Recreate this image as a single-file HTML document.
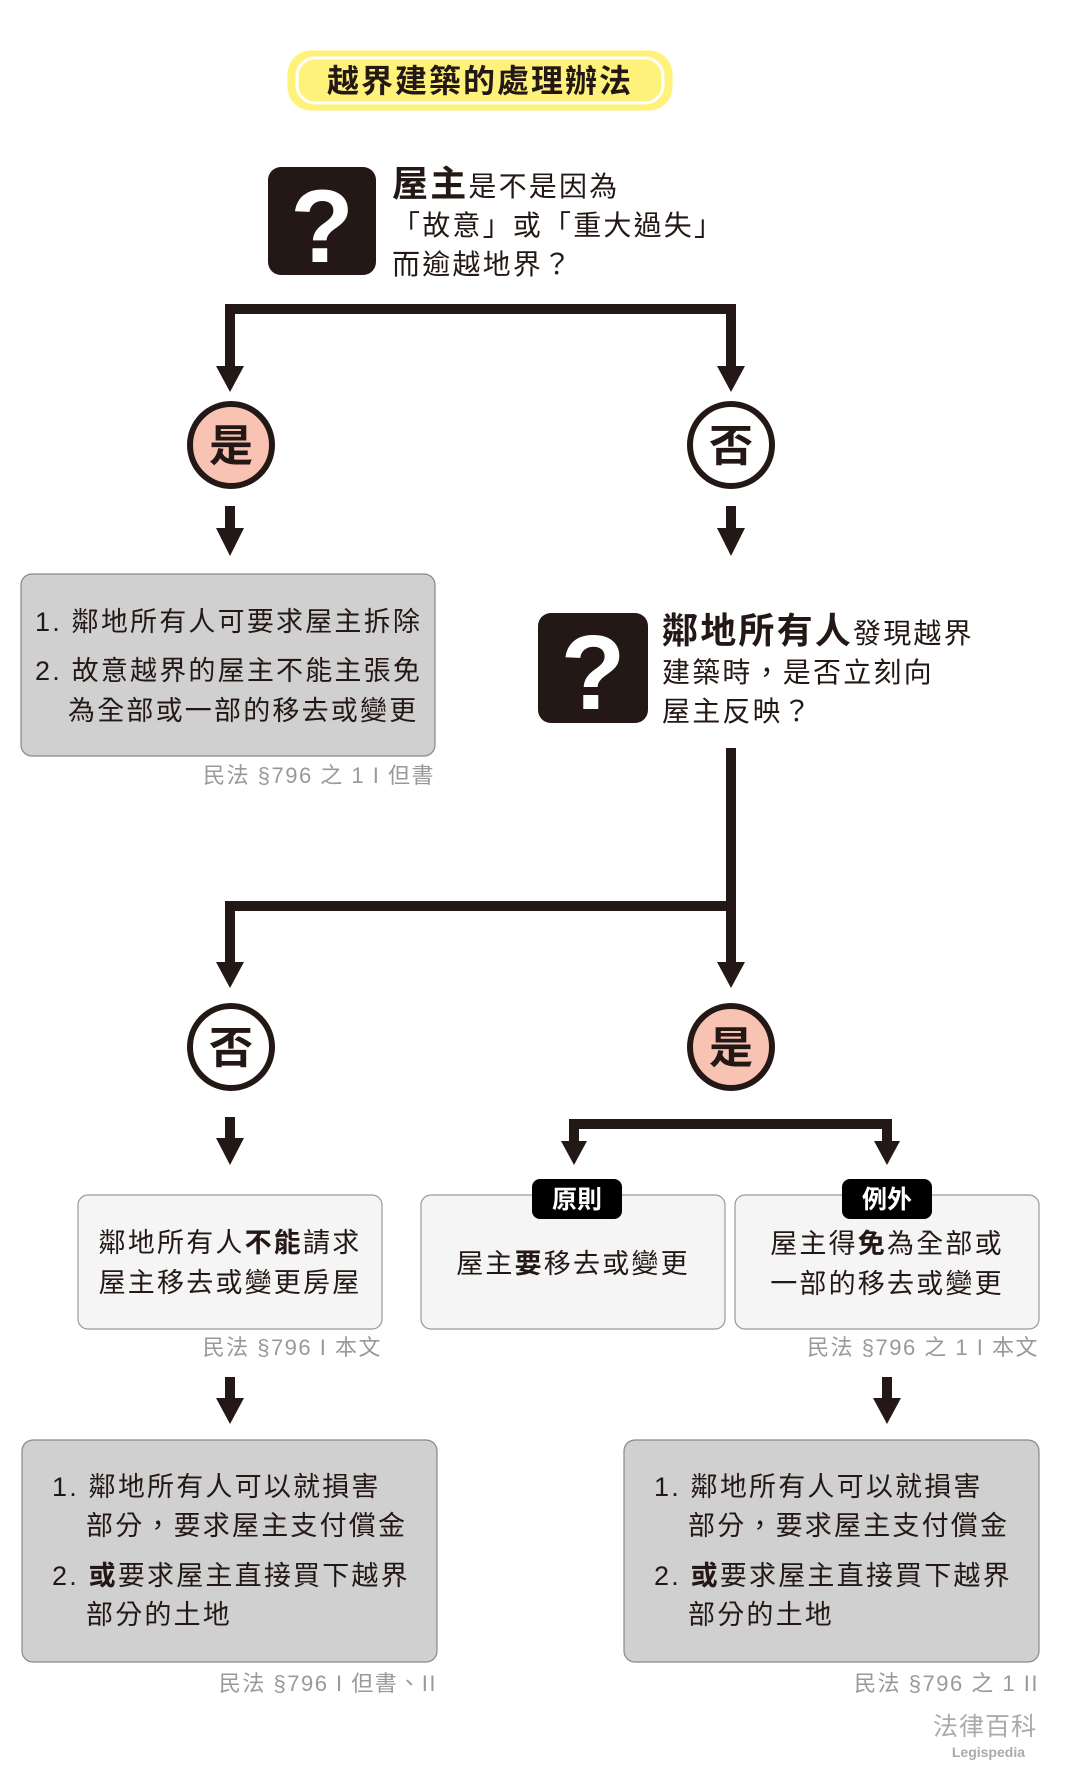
<!DOCTYPE html>
<html><head><meta charset="utf-8"><style>
html,body{margin:0;padding:0;background:#fff;}
svg{display:block;}
text{font-family:"Liberation Sans","Noto Sans CJK TC",sans-serif;}
.b{letter-spacing:2.2px;}
.c{letter-spacing:1.5px;}
</style></head><body>
<svg width="1065" height="1784" viewBox="0 0 1065 1784" xmlns="http://www.w3.org/2000/svg">
<!-- title -->
<rect x="289" y="52" width="382" height="57" rx="22" fill="#fff27a" stroke="#fff27a" stroke-width="3"/>
<rect x="297" y="58" width="366" height="45" rx="18" fill="#fff27a" stroke="#fff" stroke-width="3"/>
<text x="480" y="92" font-size="32" font-weight="bold" text-anchor="middle" fill="#231815" letter-spacing="2">越界建築的處理辦法</text>

<!-- question 1 -->
<rect x="268" y="167" width="108" height="108" rx="13" fill="#231815"/>
<text x="322" y="262" font-size="104" font-weight="bold" text-anchor="middle" fill="#fff" font-family="Liberation Sans">?</text>
<text class="b" x="392" y="196" fill="#231815"><tspan font-size="36" font-weight="bold">屋主</tspan><tspan font-size="28">是不是因為</tspan></text>
<text class="b" x="392" y="235" font-size="28" fill="#231815">「故意」或「重大過失」</text>
<text class="b" x="392" y="274" font-size="28" fill="#231815">而逾越地界？</text>

<g fill="none" stroke="#231815" stroke-width="10">
<polyline points="230,370 230,309 731,309 731,370"/>
<line x1="230" y1="506" x2="230" y2="532"/>
<line x1="731" y1="506" x2="731" y2="532"/>
<polyline points="731,748 731,906"/>
<polyline points="230,966 230,906 731,906 731,966"/>
<line x1="230" y1="1117" x2="230" y2="1142"/>
<polyline points="574,1145 574,1124 887,1124 887,1145"/>
<line x1="230" y1="1377" x2="230" y2="1402"/>
<line x1="887" y1="1377" x2="887" y2="1402"/>
</g>
<g fill="#231815">
<polygon points="216,366 244,366 230,392"/>
<polygon points="717,366 745,366 731,392"/>
<polygon points="216,528 244,528 230,556"/>
<polygon points="717,528 745,528 731,556"/>
<polygon points="216,962 244,962 230,988"/>
<polygon points="717,962 745,962 731,988"/>
<polygon points="216,1138 244,1138 230,1165"/>
<polygon points="561,1141 587,1141 574,1165"/>
<polygon points="874,1141 900,1141 887,1165"/>
<polygon points="216,1398 244,1398 230,1424"/>
<polygon points="873,1398 901,1398 887,1424"/>
</g>

<!-- circles -->
<circle cx="231" cy="445" r="41" fill="#f8c3b3" stroke="#231815" stroke-width="6"/>
<text x="231" y="461" font-size="44" font-weight="bold" text-anchor="middle" fill="#231815">是</text>
<circle cx="731" cy="445" r="41" fill="#fff" stroke="#231815" stroke-width="6"/>
<text x="731" y="461" font-size="44" font-weight="bold" text-anchor="middle" fill="#231815">否</text>
<circle cx="231" cy="1047" r="41" fill="#fff" stroke="#231815" stroke-width="6"/>
<text x="231" y="1063" font-size="44" font-weight="bold" text-anchor="middle" fill="#231815">否</text>
<circle cx="731" cy="1047" r="41" fill="#f8c3b3" stroke="#231815" stroke-width="6"/>
<text x="731" y="1063" font-size="44" font-weight="bold" text-anchor="middle" fill="#231815">是</text>

<!-- box 1 -->
<rect x="21" y="574" width="414" height="182" rx="11" fill="#d0d0d0" stroke="#888" stroke-width="1.2"/>
<g font-size="27" fill="#231815" class="b">
<text x="35" y="631">1. 鄰地所有人可要求屋主拆除</text>
<text x="35" y="680">2. 故意越界的屋主不能主張免</text>
<text x="68" y="720">為全部或一部的移去或變更</text>
</g>
<text class="c" x="435" y="783" font-size="22" text-anchor="end" fill="#999">民法 §796 之 1 I 但書</text>

<!-- question 2 -->
<rect x="538" y="613" width="110" height="110" rx="13" fill="#231815"/>
<text x="593" y="709" font-size="106" font-weight="bold" text-anchor="middle" fill="#fff" font-family="Liberation Sans">?</text>
<text class="b" x="662" y="643" fill="#231815"><tspan font-size="36" font-weight="bold">鄰地所有人</tspan><tspan font-size="28">發現越界</tspan></text>
<text class="b" x="662" y="682" font-size="28" fill="#231815">建築時，是否立刻向</text>
<text class="b" x="662" y="721" font-size="28" fill="#231815">屋主反映？</text>

<!-- middle boxes -->
<rect x="78" y="1195" width="304" height="134" rx="10" fill="#f5f5f5" stroke="#999" stroke-width="1.2"/>
<g font-size="27" fill="#231815" class="b">
<text x="230" y="1252" text-anchor="middle">鄰地所有人<tspan font-weight="bold">不能</tspan>請求</text>
<text x="230" y="1292" text-anchor="middle">屋主移去或變更房屋</text>
</g>
<rect x="421" y="1195" width="304" height="134" rx="10" fill="#f5f5f5" stroke="#999" stroke-width="1.2"/>
<text class="b" x="573" y="1273" font-size="27" text-anchor="middle" fill="#231815">屋主<tspan font-weight="bold">要</tspan>移去或變更</text>
<rect x="735" y="1195" width="304" height="134" rx="10" fill="#f5f5f5" stroke="#999" stroke-width="1.2"/>
<g font-size="27" fill="#231815" class="b">
<text x="887" y="1253" text-anchor="middle">屋主得<tspan font-weight="bold">免</tspan>為全部或</text>
<text x="887" y="1293" text-anchor="middle">一部的移去或變更</text>
</g>
<rect x="532" y="1179" width="90" height="40" rx="8" fill="#000"/>
<text x="577" y="1208" font-size="25" font-weight="bold" text-anchor="middle" fill="#fff">原則</text>
<rect x="842" y="1179" width="90" height="40" rx="8" fill="#000"/>
<text x="887" y="1208" font-size="25" font-weight="bold" text-anchor="middle" fill="#fff">例外</text>
<text class="c" x="382" y="1355" font-size="22" text-anchor="end" fill="#999">民法 §796 I 本文</text>
<text class="c" x="1039" y="1355" font-size="22" text-anchor="end" fill="#999">民法 §796 之 1 I 本文</text>

<!-- bottom boxes -->
<rect x="22" y="1440" width="415" height="222" rx="11" fill="#d0d0d0" stroke="#888" stroke-width="1.2"/>
<g font-size="27" fill="#231815" class="b">
<text x="52" y="1496">1. 鄰地所有人可以就損害</text>
<text x="86" y="1535">部分，要求屋主支付償金</text>
<text x="52" y="1585">2. <tspan font-weight="bold">或</tspan>要求屋主直接買下越界</text>
<text x="86" y="1624">部分的土地</text>
</g>
<rect x="624" y="1440" width="415" height="222" rx="11" fill="#d0d0d0" stroke="#888" stroke-width="1.2"/>
<g font-size="27" fill="#231815" class="b">
<text x="654" y="1496">1. 鄰地所有人可以就損害</text>
<text x="688" y="1535">部分，要求屋主支付償金</text>
<text x="654" y="1585">2. <tspan font-weight="bold">或</tspan>要求屋主直接買下越界</text>
<text x="688" y="1624">部分的土地</text>
</g>
<text class="c" x="437" y="1691" font-size="22" text-anchor="end" fill="#999">民法 §796 I 但書、II</text>
<text class="c" x="1039" y="1691" font-size="22" text-anchor="end" fill="#999">民法 §796 之 1 II</text>

<text x="1037" y="1735" font-size="25" text-anchor="end" fill="#aaa" letter-spacing="1">法律百科</text>
<text x="1025" y="1757" font-size="14" font-weight="bold" text-anchor="end" fill="#aaa">Legispedia</text>
</svg>
</body></html>
